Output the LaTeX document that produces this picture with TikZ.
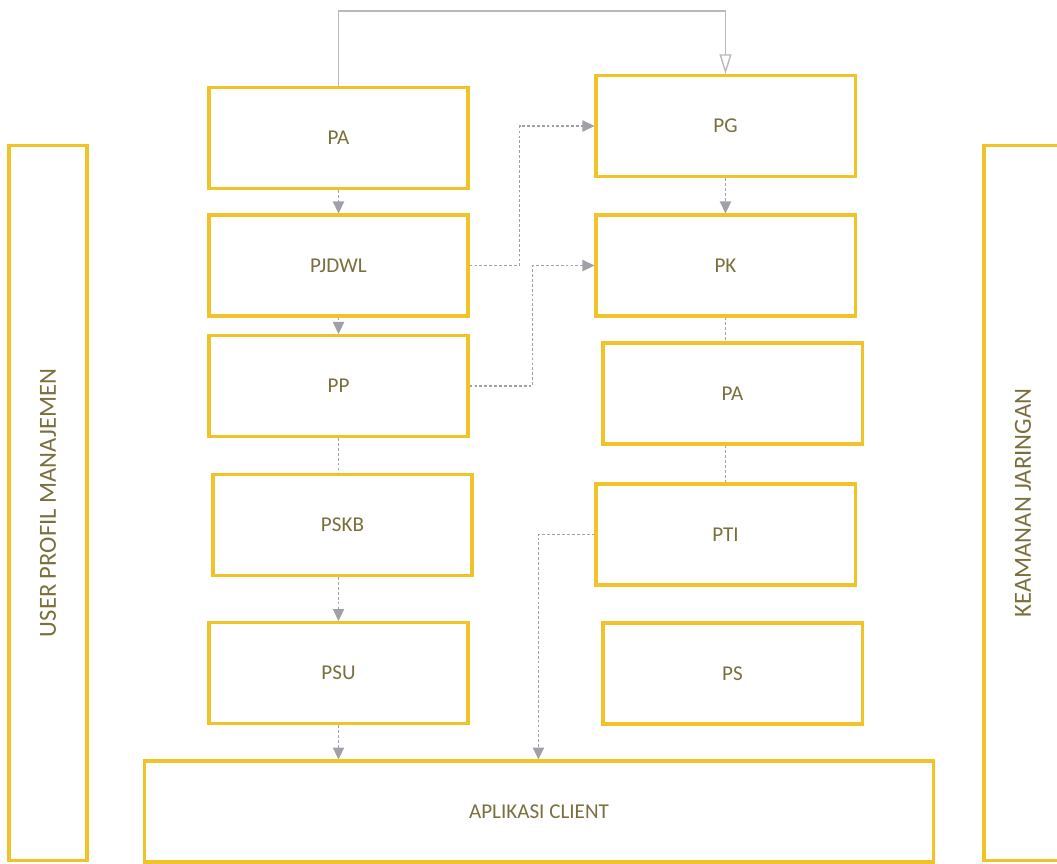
\documentclass[tikz,border=0pt]{standalone}
\usepackage{fontspec}
\setmainfont{Carlito}
\usetikzlibrary{arrows.meta,calc}
\definecolor{boxyellow}{RGB}{240,196,40}
\definecolor{labelolive}{RGB}{122,112,62}
\definecolor{linkgray}{RGB}{160,160,168}

\begin{document}
\begin{tikzpicture}[
  x=0.025cm, y=-0.025cm,
  modul/.style={rectangle,draw=boxyellow,line width=2.2pt,fill=white,minimum width=6.475cm,minimum height=2.525cm,inner sep=0pt,text=labelolive,font=\fontsize{15}{18}\selectfont},
  sisi/.style={modul,rotate=90,minimum width=17.85cm,minimum height=1.95cm,font=\fontsize{17.5}{20}\selectfont},
  link/.style={draw=linkgray,line width=1pt,dash pattern=on 2pt off 1.5pt},
  linkarrow/.style={link,-{Triangle[length=8.5pt,width=8pt]}},
  alur/.style={draw=gray!55,line width=1pt,-{Triangle[open,length=14pt,width=8.5pt]}}
]
  \useasboundingbox (0,0) rectangle (1057,863);

  \node[sisi] (upm) at (48,503) {USER PROFIL MANAJEMEN};
  \node[sisi] (kj) at (1023,503) {KEAMANAN JARINGAN};

  \node[modul] (pa) at (338.5,138) {PA};
  \node[modul] (pjdwl) at (338.5,265.5) {PJDWL};
  \node[modul] (pp) at (338.5,386) {PP};
  \node[modul] (pskb) at (342.5,525) {PSKB};
  \node[modul] (psu) at (338.5,673) {PSU};

  \node[modul] (pg) at (725.5,126) {PG};
  \node[modul] (pk) at (725.5,265.5) {PK};
  \node[modul] (pa2) at (732.5,393.5) {PA};
  \node[modul] (pti) at (725.5,534.5) {PTI};
  \node[modul] (ps) at (732.5,673.5) {PS};

  \node[modul,minimum width=19.7cm] (client) at (539,811.5) {APLIKASI CLIENT};

  \draw[alur] (pa.north) -- ++(0,-75) -| (pg.north);
  \draw[linkarrow] (pa) -- (pjdwl);
  \draw[linkarrow] (pjdwl) -- (pp);
  \draw[link] (pp) -- (pskb.north -| pp.south);
  \draw[linkarrow] (pskb.south -| psu.north) -- (psu);
  \draw[linkarrow] (psu) -- (client.north -| psu.south);
  \draw[linkarrow] (pg) -- (pk);
  \draw[link] (pk.south) -- (pa2.north -| pk.south);
  \draw[link] (pa2.south -| pti.north) -- (pti.north);
  \draw[linkarrow] (pjdwl.east) -- ++(50,0) |- (pg.west);
  \draw[linkarrow] (pp.east) -- ++(63,0) |- (pk.west);
  \coordinate (tibend) at ($(pti.west)+(-56,0)$);
  \draw[linkarrow] (pti.west) -- (tibend) -- (tibend |- client.north);
\end{tikzpicture}
\end{document}
